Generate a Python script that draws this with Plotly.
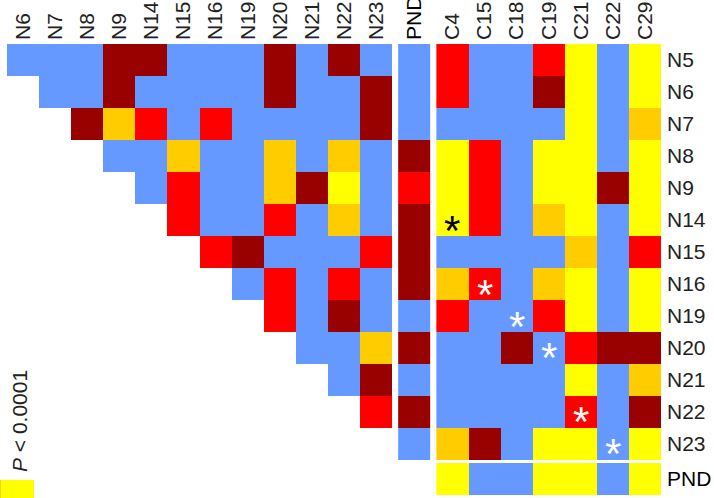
import plotly.graph_objects as go

# ---------------- data ----------------
row_labels = ["N5", "N6", "N7", "N8", "N9", "N14", "N15", "N16", "N19", "N20", "N21", "N22", "N23"]
n_cols = ["N6", "N7", "N8", "N9", "N14", "N15", "N16", "N19", "N20", "N21", "N22", "N23"]
c_cols = ["C4", "C15", "C18", "C19", "C21", "C22", "C29"]

# significance classes: B (blue) < D (dark red) < R (red) < O (orange) < Y (yellow, P < 0.0001)
# upper-triangle N x N block: row i lists columns i..end
n_block = [
    "B B B D D B B B D B D B",
    "B B D B B B B D B B D",
    "D O R B R B B B B D",
    "B B O B B O B O B",
    "B R B B O D Y B",
    "R B B R B O B",
    "R D B B B R",
    "B R B R B",
    "R B D B",
    "B B O",
    "B D",
    "R",
    "",
]
pnd_col = "B B B D R D D D B D B D B"
c_block = [
    "R B B R Y B Y",
    "R B B D Y B Y",
    "B B B B Y B O",
    "Y R B Y Y B Y",
    "Y R B Y Y D Y",
    "Y R B O Y B Y",
    "B B B B O B R",
    "O R B O Y B Y",
    "R B B R Y B Y",
    "B B D B R D D",
    "B B B B Y B O",
    "B B B B R B D",
    "O D B Y Y B Y",
]
pnd_row = "Y B B Y Y B Y"

# asterisks: (row, column, colour)
stars = [("N14", "C4", "black"), ("N16", "C15", "white"), ("N19", "C18", "white"),
         ("N20", "C19", "white"), ("N22", "C21", "white"), ("N23", "C22", "white")]

# ---------------- styling ----------------
level = {"B": 0, "D": 1, "R": 2, "O": 3, "Y": 4}
colors = ["#6699FF", "#990000", "#FF0000", "#FFCC00", "#FFFF00"]
cs = []
for i, c in enumerate(colors):
    cs.append([max(0, (i - 0.5) / 4), c])
    cs.append([min(1, (i + 0.5) / 4), c])

GAP_X = 0.19
GAP_Y = 0.094
nN = len(n_cols)
x_n = list(range(nN))
x_pnd = (nN - 0.5) + GAP_X + 0.5
x_c = [x_pnd + 0.5 + GAP_X + 0.5 + k for k in range(len(c_cols))]
y_rows = list(range(len(row_labels)))
y_pnd = (len(row_labels) - 0.5) + GAP_Y + 0.5


def codes(s):
    return [level[t] for t in s.split()]


z_n = []
for i, s in enumerate(n_block):
    vals = codes(s)
    z_n.append([None] * (nN - len(vals)) + vals)
z_pnd = [[v] for v in codes(pnd_col)]
z_c = [codes(s) for s in c_block]
z_pr = [codes(pnd_row)]

common = dict(colorscale=cs, zmin=0, zmax=4, showscale=False, hoverongaps=False)
fig = go.Figure()
fig.add_trace(go.Heatmap(z=z_n, x=x_n, y=y_rows, **common))
fig.add_trace(go.Heatmap(z=z_pnd, x0=x_pnd, dx=1, y=y_rows, **common))
fig.add_trace(go.Heatmap(z=z_c, x=x_c, y=y_rows, **common))
fig.add_trace(go.Heatmap(z=z_pr, x=x_c, y0=y_pnd, dy=1, **common))

col_pos = dict(zip(c_cols, x_c))
row_pos = dict(zip(row_labels, y_rows))
for r, c, col in stars:
    fig.add_annotation(x=col_pos[c], y=row_pos[r], xref="x", yref="y", text="*",
                       showarrow=False, yshift=-10,
                       font=dict(size=42, color=col, family="Liberation Sans"))

font_col = "#222222"
fig.update_xaxes(range=[-0.5, x_c[-1] + 0.5], side="top", showgrid=False, zeroline=False,
                 automargin=False,
                 tickmode="array", tickvals=x_n + [x_pnd] + x_c,
                 ticktext=n_cols + ["<span style='color:black'>PND</span>"] + c_cols,
                 tickangle=-90, ticks="", showline=False, ticklabelstandoff=3,
                 tickfont=dict(size=21, color=font_col, family="Liberation Sans"))
fig.update_yaxes(range=[y_pnd + 0.5, -0.5], side="right", showgrid=False, zeroline=False,
                 automargin=False,
                 tickmode="array", tickvals=y_rows + [y_pnd],
                 ticktext=row_labels + ["<span style='color:black'>PND</span>"],
                 ticks="", showline=False, ticklabelstandoff=5,
                 tickfont=dict(size=21, color=font_col, family="Liberation Sans"))

# legend key (P < 0.0001 = yellow)
fig.add_shape(type="rect", xref="paper", yref="paper", x0=-0.0107, x1=0.0413,
              y0=-0.02, y1=0.0333, fillcolor="#FFFF00", line=dict(width=0), layer="above")
fig.add_shape(type="rect", xref="paper", yref="paper", x0=-0.0107, x1=-0.0092,
              y0=-0.02, y1=0.0333, fillcolor="#FFCC00", line=dict(width=0), layer="above")
fig.add_annotation(xref="paper", yref="paper", x=0.0184, y=0.164, xanchor="center",
                   yanchor="middle", text="<i>P</i> < 0.0001",
                   textangle=-90, showarrow=False,
                   font=dict(size=21, color=font_col, family="Liberation Sans"))

fig.update_layout(width=714, height=498, margin=dict(l=7, r=53, t=44, b=3),
                  plot_bgcolor="white", paper_bgcolor="white")
fig.write_html("out.html", config={"displayModeBar": False},
               post_script="document.body.style.margin='0';document.body.style.overflow='hidden';")
